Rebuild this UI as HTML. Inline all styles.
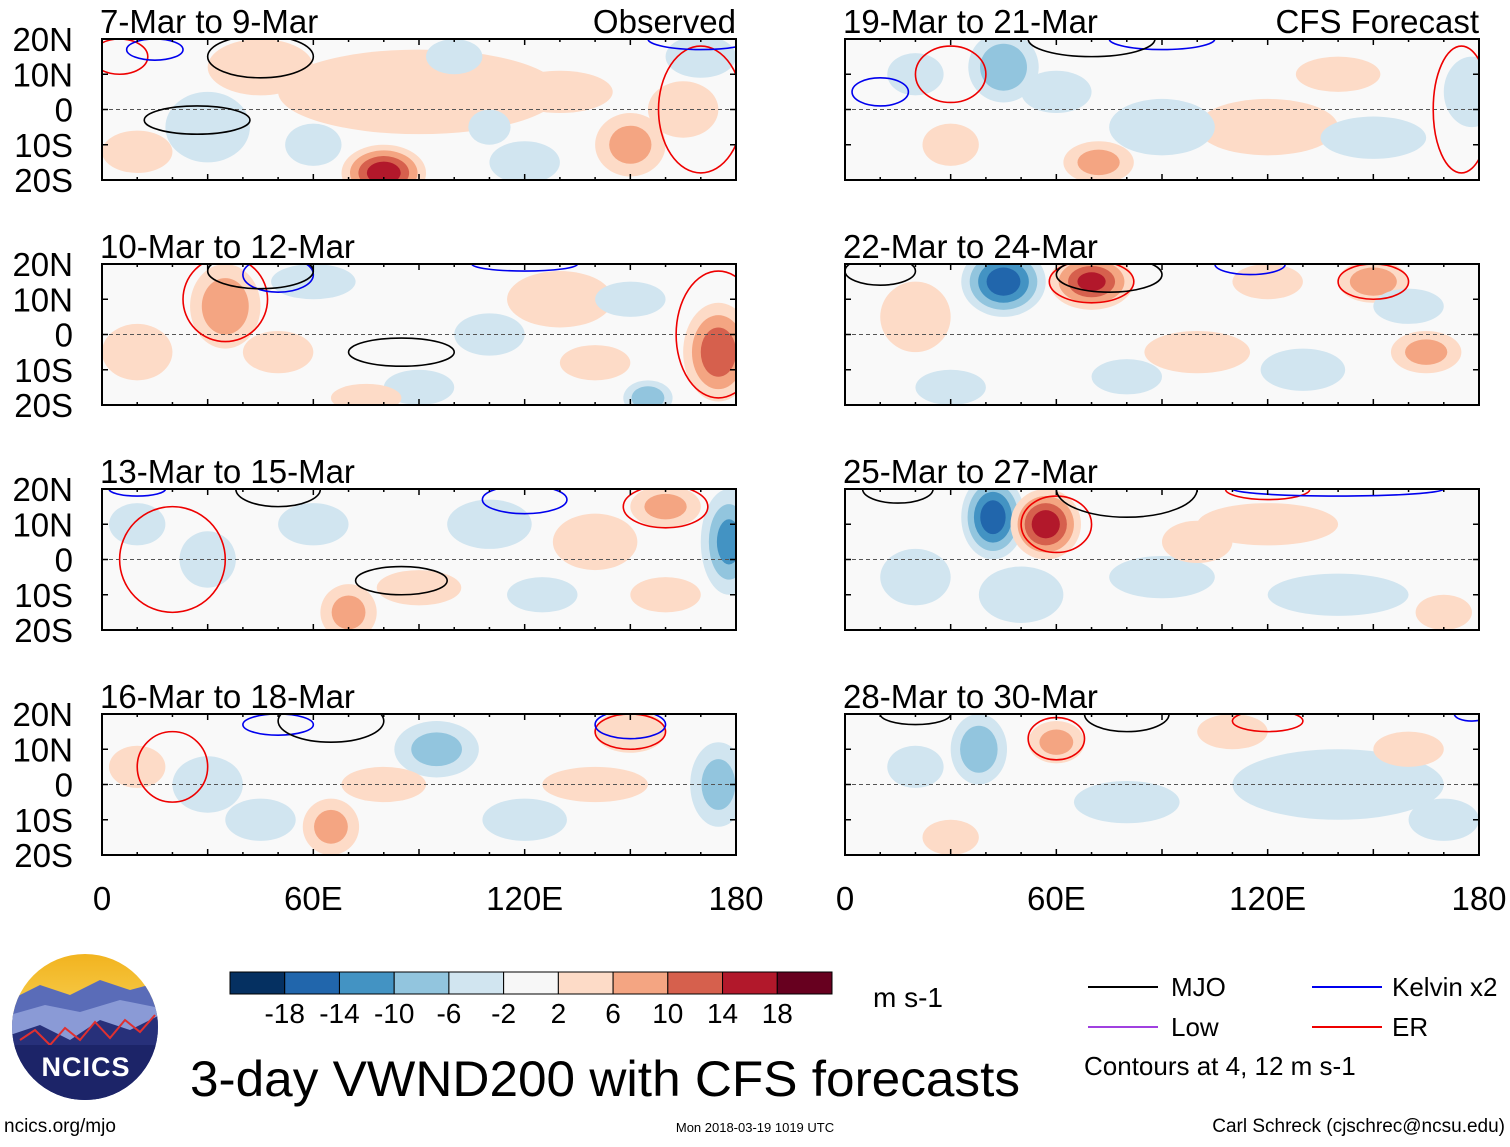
<!DOCTYPE html>
<html><head><meta charset="utf-8">
<style>
body{margin:0;background:#fff;font-family:"Liberation Sans",sans-serif;}
svg text{font-family:"Liberation Sans",sans-serif;}
</style></head>
<body>
<svg id="fig" width="1510" height="1142" viewBox="0 0 1510 1142" xmlns="http://www.w3.org/2000/svg">
<g id="panels"></g>
<g id="xaxis"></g>
<g id="cbar"></g>
<g id="logo">
  <defs><clipPath id="lc"><circle cx="85" cy="1027" r="73"/></clipPath>
  <linearGradient id="sky" x1="0" y1="0" x2="0" y2="1"><stop offset="0" stop-color="#f2b21c"/><stop offset="0.5" stop-color="#f6d35a"/></linearGradient></defs>
  <g clip-path="url(#lc)">
    <rect x="10" y="950" width="150" height="160" fill="url(#sky)"/>
    <path d="M10 1000 L40 985 L70 995 L100 980 L130 990 L160 982 L160 1110 L10 1110Z" fill="#5a6cb8"/>
    <path d="M10 1015 L45 1005 L80 1012 L120 1000 L160 1008 L160 1110 L10 1110Z" fill="#8a9ad6"/>
    <path d="M10 1035 L40 1025 L70 1040 L100 1020 L130 1030 L160 1015 L160 1110 L10 1110Z" fill="#27307a"/>
    <path d="M20 1040 L35 1030 L50 1045 L65 1028 L80 1040 L95 1022 L110 1038 L125 1020 L140 1032 L155 1015" stroke="#e03030" stroke-width="2" fill="none"/>
    <rect x="10" y="1045" width="150" height="70" fill="#1c2468"/>
  </g>
  <text x="86" y="1076" font-size="27" font-weight="bold" fill="#fff" text-anchor="middle" letter-spacing="1">NCICS</text>
</g>
<text x="190" y="1096" font-size="50" textLength="830" lengthAdjust="spacingAndGlyphs">3-day VWND200 with CFS forecasts</text>
<text x="873" y="1007" font-size="28">m s-1</text>
<g>
  <line x1="1088" y1="987" x2="1158" y2="987" stroke="#000" stroke-width="2"/>
  <text x="1171" y="996" font-size="26">MJO</text>
  <line x1="1312" y1="987" x2="1382" y2="987" stroke="#0000ee" stroke-width="2"/>
  <text x="1392" y="996" font-size="26">Kelvin x2</text>
  <line x1="1088" y1="1027" x2="1158" y2="1027" stroke="#a040e0" stroke-width="2"/>
  <text x="1171" y="1036" font-size="26">Low</text>
  <line x1="1312" y1="1027" x2="1382" y2="1027" stroke="#ee0000" stroke-width="2"/>
  <text x="1392" y="1036" font-size="26">ER</text>
  <text x="1084" y="1075" font-size="26">Contours at 4, 12 m s-1</text>
</g>
<text x="4" y="1132" font-size="19">ncics.org/mjo</text>
<text x="755" y="1132" font-size="13" text-anchor="middle">Mon 2018-03-19 1019 UTC</text>
<text x="1505" y="1132" font-size="19" text-anchor="end">Carl Schreck (cjschrec@ncsu.edu)</text>
</svg>
<script>
const NS="http://www.w3.org/2000/svg";
const titles=["7-Mar to 9-Mar","10-Mar to 12-Mar","13-Mar to 15-Mar","16-Mar to 18-Mar","19-Mar to 21-Mar","22-Mar to 24-Mar","25-Mar to 27-Mar","28-Mar to 30-Mar"];
const latTicks=[20,10,0,-10,-20];
const latLabels=["20N","10N","0","10S","20S"];
const lonTicks=[0,60,120,180];
const lonLabels=["0","60E","120E","180"];
const cbLevels=[-18,-14,-10,-6,-2,2,6,10,14,18];
const cbColors=["#053061","#2166ac","#4393c3","#92c5de","#d1e5f0","#f7f7f7","#fddbc7","#f4a582","#d6604d","#b2182b","#67001f"];
// anomaly blobs: [lon, lat, value, halfwidth lon, halfwidth lat]
const blobs0=[[90,5,4,40,12],[45,12,6,15,8],[80,-18,18,12,8],[150,-10,8,10,9],[120,-15,-6,10,6],[170,15,-6,10,6],[30,-5,-4,12,10],[100,15,-4,8,5],[130,5,4,15,6],[10,-12,4,10,6],[60,-10,-4,8,6],[165,0,4,10,8],[110,-5,-4,6,5]];
const blobs1=[[35,8,10,10,12],[175,-5,14,10,14],[155,-18,-10,7,5],[130,10,4,15,8],[90,-15,-6,10,5],[75,-18,6,10,4],[60,15,-4,12,5],[10,-5,4,10,8],[110,0,-4,10,6],[150,10,-4,10,5],[50,-5,4,10,6],[140,-8,4,10,5]];
const blobs2=[[178,5,-12,8,15],[160,15,8,10,6],[70,-15,8,8,8],[140,5,6,12,8],[110,10,-6,12,7],[60,10,-4,10,6],[30,0,-4,8,8],[10,10,-4,8,6],[90,-8,4,12,5],[125,-10,-4,10,5],[160,-10,4,10,5]];
const blobs3=[[95,10,-8,12,8],[175,0,-8,8,12],[65,-12,8,8,8],[150,15,6,10,6],[30,0,-4,10,8],[120,-10,-4,12,6],[10,5,4,8,6],[80,0,4,12,5],[140,0,4,15,5],[45,-10,-4,10,6]];
const blobs4=[[45,12,-10,10,10],[72,-15,8,10,6],[178,5,-6,8,10],[120,-5,4,20,8],[30,-10,4,8,6],[60,5,-4,10,6],[90,-5,-4,15,8],[150,-8,-4,15,6],[140,10,4,12,5],[20,10,-4,8,6]];
const blobs5=[[45,15,-18,12,10],[70,15,16,12,8],[150,15,10,10,6],[165,-5,8,10,6],[130,-10,-6,12,6],[120,15,6,10,5],[20,5,4,10,10],[100,-5,4,15,6],[80,-12,-4,10,5],[30,-15,-4,10,5],[160,8,-4,10,5]];
const blobs6=[[42,12,-18,9,12],[57,10,18,10,10],[50,-10,-4,12,8],[120,10,4,20,6],[140,-10,-4,20,6],[170,-15,4,8,5],[90,-5,-4,15,6],[20,-5,-4,10,8],[100,5,4,10,6]];
const blobs7=[[38,10,-10,8,10],[60,12,8,8,6],[140,0,-4,30,10],[110,15,4,10,5],[170,-10,-4,10,6],[30,-15,4,8,5],[80,-5,-4,15,6],[20,5,-4,8,6],[160,10,4,10,5]];
const blobData=[blobs0,blobs1,blobs2,blobs3,blobs4,blobs5,blobs6,blobs7];
// contours: [lon, lat, halfwidth lon, halfwidth lat]
const mjo=[[[27,-3,15,4],[45,15,15,6]],[[85,-5,15,4],[45,18,15,5]],[[85,-6,13,4],[50,20,12,5]],[[65,18,15,6]],[[70,20,18,5]],[[75,17,15,5],[10,18,10,4]],[[80,20,20,8],[15,20,10,4]],[[80,20,12,5],[20,20,10,3]]];
const kelvin=[[[15,17,8,3],[170,20,15,3]],[[50,17,10,5],[120,20,15,2]],[[120,17,12,4],[10,20,8,2]],[[150,17,10,4],[50,17,10,3]],[[10,5,8,4],[90,20,15,3]],[[115,20,10,3]],[[140,20,30,2]],[[178,20,5,2]]];
const er=[[[170,0,12,18],[5,15,8,5]],[[175,0,12,18],[35,10,12,12]],[[160,15,12,6],[20,0,15,15]],[[150,15,10,5],[20,5,10,10]],[[30,10,10,8],[175,0,8,18]],[[70,15,12,6],[150,15,10,5]],[[60,10,10,8],[120,20,12,3]],[[60,13,8,6],[120,18,10,3]]];

function el(tag,attrs,parent){const e=document.createElementNS(NS,tag);for(const k in attrs)e.setAttribute(k,attrs[k]);parent.appendChild(e);return e;}
function colorIdx(v){let i=0;while(i<cbLevels.length&&v>cbLevels[i])i++;return i;}

const W=634,H=141;
const origins=[[102,39],[102,264],[102,489],[102,714],[845,39],[845,264],[845,489],[845,714]];
const pg=document.getElementById('panels');
origins.forEach((o,p)=>{
  const [x0,y0]=o;
  const xs=lon=>x0+lon/180*W;
  const ys=lat=>y0+(20-lat)/40*H;
  const g=el('g',{},pg);
  
  
  const cp=el('clipPath',{id:'cp'+p},g);
  el('rect',{x:x0,y:y0,width:W,height:H},cp);
  const inner=el('g',{'clip-path':'url(#cp'+p+')'},g);
  el('rect',{x:x0,y:y0,width:W,height:H,fill:'#f9f9f9'},inner);
  blobData[p].forEach(b=>{
    const [lon,lat,v,rl,rt]=b;
    const a=Math.abs(v),sg=Math.sign(v);
    const lv=[2,6,10,14,18].filter(l=>l<a);
    lv.forEach(l=>{
      const f=1-(l-2)/(a+2);
      const e=el('ellipse',{cx:xs(lon),cy:ys(lat),rx:rl/180*W*f,ry:rt/40*H*f,fill:cbColors[colorIdx(sg*(l+0.5))]},inner);
      
      
    });
  });
  el('line',{x1:x0,y1:ys(0),x2:x0+W,y2:ys(0),stroke:'#555','stroke-dasharray':'4,3','stroke-width':1},inner);
  const drawC=(arr,col,name)=>arr[p].forEach(c=>{
    const e=el('ellipse',{cx:xs(c[0]),cy:ys(c[1]),rx:c[2]/180*W,ry:c[3]/40*H,fill:'none',stroke:col,'stroke-width':1.6},inner);
    
    
  });
  drawC(er,'#ee0000','er-contour');drawC(kelvin,'#0000ee','kelvin-contour');drawC(mjo,'#000','mjo-contour');
  el('rect',{x:x0,y:y0,width:W,height:H,fill:'none',stroke:'#000','stroke-width':2},g);
  for(let lon=0;lon<=180;lon+=10){el('line',{x1:xs(lon),y1:y0,x2:xs(lon),y2:y0+(lon%30?3:6),stroke:'#000','stroke-width':1.5},g);el('line',{x1:xs(lon),y1:y0+H,x2:xs(lon),y2:y0+H-(lon%30?3:6),stroke:'#000','stroke-width':1.5},g);}
  latTicks.forEach(lat=>{el('line',{x1:x0,y1:ys(lat),x2:x0+6,y2:ys(lat),stroke:'#000','stroke-width':1.5},g);el('line',{x1:x0+W,y1:ys(lat),x2:x0+W-6,y2:ys(lat),stroke:'#000','stroke-width':1.5},g);});
  if(p<4){latTicks.forEach((lat,i)=>{const t=el('text',{x:x0-29,y:ys(lat)+12,'font-size':33,'text-anchor':'end'},g);t.textContent=latLabels[i];}) ;}
  const t=el('text',{x:x0-2,y:y0-6,'font-size':33},g);t.textContent=titles[p];
  
  
  if(p==0||p==4){const s=el('text',{x:x0+W,y:y0-6,'font-size':33,'text-anchor':'end'},g);s.textContent=p==0?'Observed':'CFS Forecast';
    
    }
});
const xa=document.getElementById('xaxis');
[102,845].forEach(x0=>{lonTicks.forEach((lon,i)=>{const t=el('text',{x:x0+lon/180*W,y:910,'font-size':33,'text-anchor':'middle'},xa);t.textContent=lonLabels[i];
  
  });});
const cb=document.getElementById('cbar');
const cbx=230,cbw=602/cbColors.length;
cbColors.forEach((c,i)=>{const r=el('rect',{x:cbx+i*cbw,y:972,width:cbw,height:22,fill:c,stroke:'#000','stroke-width':1},cb);
  
  });
cbLevels.forEach((v,i)=>{const t=el('text',{x:cbx+(i+1)*cbw,y:1023,'font-size':28,'text-anchor':'middle'},cb);t.textContent=v;
  
  });
</script>
</body></html>
